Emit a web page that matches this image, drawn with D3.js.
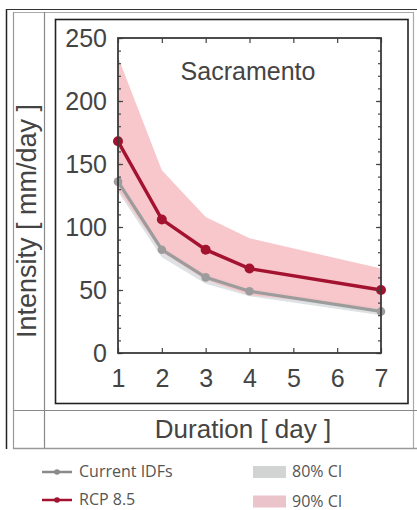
<!DOCTYPE html>
<html><head><meta charset="utf-8">
<script src="https://cdn.jsdelivr.net/npm/d3@7"></script>
<style>html,body{margin:0;padding:0;background:#fff;}svg{display:block;}</style>
</head><body>
<svg id="c" width="417" height="510"></svg>
<script>
const durations = [1, 2, 3, 4, 7];
const currentIDF = [136, 82, 60, 49, 33];
const rcp85 = [168, 106, 82, 67, 50];
const ci90Upper = [235, 145, 108, 91, 67];
const ci90Lower = [130, 80, 58, 46, 35];
const ci80Upper = [140, 85, 63, 52, 36];
const ci80Lower = [128, 76, 55, 45, 30];
const xTicks = [1, 2, 3, 4, 5, 6, 7];
const yTicks = [0, 50, 100, 150, 200, 250];
const yMinor = d3.range(0, 251, 10);
const legendLines = ["Current IDFs", "RCP 8.5"];
const legendPatches = ["80% CI", "90% CI"];

const svg = d3.select("#c");
const F = "'Liberation Sans', Arial, sans-serif";

// outer frame
const frame = svg.append("g").attr("fill", "none");
frame.append("line").attr("x1", 6.5).attr("x2", 6.5).attr("y1", 9).attr("y2", 449).attr("stroke", "#222").attr("stroke-width", 1.5);
frame.append("line").attr("x1", 6).attr("x2", 417).attr("y1", 9.5).attr("y2", 9.5).attr("stroke", "#333").attr("stroke-width", 1.2);
frame.append("line").attr("x1", 13).attr("x2", 413).attr("y1", 12.5).attr("y2", 12.5).attr("stroke", "#aaa").attr("stroke-width", 1);
frame.append("line").attr("x1", 13.5).attr("x2", 13.5).attr("y1", 12).attr("y2", 449).attr("stroke", "#999").attr("stroke-width", 1.2);
frame.append("line").attr("x1", 44.5).attr("x2", 44.5).attr("y1", 12).attr("y2", 449).attr("stroke", "#888").attr("stroke-width", 1.2);
frame.append("line").attr("x1", 413.5).attr("x2", 413.5).attr("y1", 12).attr("y2", 449).attr("stroke", "#aaa").attr("stroke-width", 1.2);
frame.append("line").attr("x1", 13).attr("x2", 417).attr("y1", 410.5).attr("y2", 410.5).attr("stroke", "#888").attr("stroke-width", 1.2);
frame.append("line").attr("x1", 13).attr("x2", 417).attr("y1", 448.5).attr("y2", 448.5).attr("stroke", "#999").attr("stroke-width", 1.5);
frame.append("rect").attr("x", 55.5).attr("y", 19.5).attr("width", 352.5).attr("height", 384).attr("stroke", "#222").attr("stroke-width", 1.6);

const x = d3.scaleLinear().domain([1, 7]).range([118, 381]);
const y = d3.scaleLinear().domain([0, 250]).range([353, 38]);

const pts = (a) => durations.map((d, i) => [d, a[i]]);
const band = (lo, hi) => durations.map((d, i) => ({d, lo: lo[i], hi: hi[i]}));
const area = d3.area().x(p => x(p.d)).y0(p => y(p.lo)).y1(p => y(p.hi));
const line = d3.line().x(p => x(p[0])).y(p => y(p[1]));

const plot = svg.append("g");
plot.append("path").attr("d", area(band(ci80Lower, ci80Upper))).attr("fill", "#dfe2e4");
plot.append("path").attr("d", area(band(ci90Lower, ci90Upper))).attr("fill", "#f6c1c5").attr("fill-opacity", 0.9);

plot.append("path").attr("d", line(pts(currentIDF))).attr("fill", "none").attr("stroke", "#9c9c9c").attr("stroke-width", 3.2);
plot.selectAll("circle.g").data(pts(currentIDF)).join("circle").attr("class", "g")
  .attr("cx", p => x(p[0])).attr("cy", p => y(p[1])).attr("r", 4.3).attr("fill", "#9c9c9c");
plot.append("path").attr("d", line(pts(rcp85))).attr("fill", "none").attr("stroke", "#a3122f").attr("stroke-width", 3.4);
plot.selectAll("circle.r").data(pts(rcp85)).join("circle").attr("class", "r")
  .attr("cx", p => x(p[0])).attr("cy", p => y(p[1])).attr("r", 5).attr("fill", "#a3122f");

// axes
const axCol = "#444";
function styleAxis(g) {
  g.select(".domain").remove();
  g.selectAll("line").attr("stroke", axCol).attr("stroke-width", 1.2);
  g.selectAll("text").attr("fill", "#444").attr("font-family", F).attr("font-size", 25);
}
const yL = svg.append("g").attr("transform", `translate(${x(1)},0)`)
  .call(d3.axisLeft(y).tickValues(yTicks).tickSizeInner(-5).tickSizeOuter(0).tickPadding(11));
styleAxis(yL);
const yLm = svg.append("g").attr("transform", `translate(${x(1)},0)`)
  .call(d3.axisLeft(y).tickValues(yMinor).tickSizeInner(-3).tickSizeOuter(0).tickFormat(""));
styleAxis(yLm);
const yR = svg.append("g").attr("transform", `translate(${x(7)},0)`)
  .call(d3.axisRight(y).tickValues(yTicks).tickSizeInner(-5).tickSizeOuter(0).tickFormat(""));
styleAxis(yR);
const yRm = svg.append("g").attr("transform", `translate(${x(7)},0)`)
  .call(d3.axisRight(y).tickValues(yMinor).tickSizeInner(-3).tickSizeOuter(0).tickFormat(""));
styleAxis(yRm);
const xB = svg.append("g").attr("transform", `translate(0,${y(0)})`)
  .call(d3.axisBottom(x).tickValues(xTicks).tickSizeInner(-5).tickSizeOuter(0).tickPadding(16).tickFormat(d3.format("d")));
styleAxis(xB);
const xT = svg.append("g").attr("transform", `translate(0,${y(250)})`)
  .call(d3.axisTop(x).tickValues(xTicks).tickSizeInner(-5).tickSizeOuter(0).tickFormat(""));
styleAxis(xT);
svg.append("rect").attr("x", x(1)).attr("y", y(250)).attr("width", x(7) - x(1)).attr("height", y(0) - y(250))
  .attr("fill", "none").attr("stroke", "#3a3a3a").attr("stroke-width", 1.8);

// texts
svg.append("text").attr("x", 248).attr("y", 80).attr("text-anchor", "middle")
  .attr("font-family", F).attr("font-size", 25).attr("fill", "#444").text("Sacramento");
svg.append("text").attr("transform", "translate(36,221) rotate(-90)").attr("text-anchor", "middle")
  .attr("font-family", F).attr("font-size", 27).attr("fill", "#444").text("Intensity [ mm/day ]");
svg.append("text").attr("x", 243).attr("y", 438).attr("text-anchor", "middle")
  .attr("font-family", F).attr("font-size", 26).attr("fill", "#444").text("Duration [ day ]");

// legend
const LF = "'Open Sans', 'Noto Sans', sans-serif";
const legCols = ["#8a8a8a", "#a3122f"];
legendLines.forEach((t, i) => {
  const yy = 472 + i * 28;
  svg.append("line").attr("x1", 42).attr("x2", 72).attr("y1", yy).attr("y2", yy).attr("stroke", legCols[i]).attr("stroke-width", 2.5);
  svg.append("circle").attr("cx", 57).attr("cy", yy).attr("r", 2.8).attr("fill", legCols[i]);
  svg.append("text").attr("x", 79).attr("y", yy + 5).attr("font-family", LF).attr("font-size", 16).attr("fill", "#555").text(t);
});
const patchCols = ["#d2d4d3", "#ebc3cb"];
legendPatches.forEach((t, i) => {
  const yy = 466 + i * 29.5;
  svg.append("rect").attr("x", 253).attr("y", yy).attr("width", 33).attr("height", 12).attr("fill", patchCols[i]);
  svg.append("text").attr("x", 292).attr("y", yy + 11).attr("font-family", LF).attr("font-size", 16).attr("fill", "#555").text(t);
});
</script>
</body></html>
